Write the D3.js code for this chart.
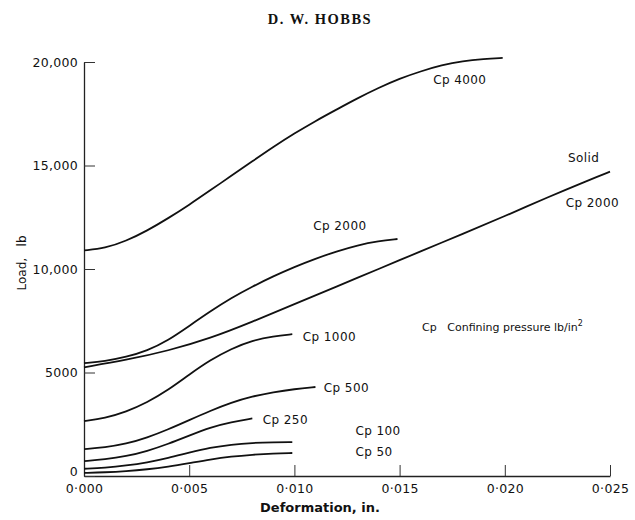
<!DOCTYPE html>
<html>
<head>
<meta charset="utf-8">
<script src="https://cdn.jsdelivr.net/npm/d3@7"></script>
<style>
  body { margin: 0; background: #fff; }
  text { font-family: "DejaVu Sans", sans-serif; fill: #111; }
</style>
</head>
<body>
<div id="chart"></div>
<script>
// deformation (in.) / load (lb)
const cp4000 = [[0,10900],[0.001,11000],[0.002,11350],[0.003,11850],[0.004,12450],[0.005,13100],[0.006,13800],[0.007,14500],[0.008,15200],[0.009,15900],[0.010,16550],[0.011,17150],[0.012,17700],[0.013,18250],[0.014,18750],[0.015,19200],[0.016,19550],[0.017,19850],[0.018,20050],[0.019,20150],[0.0199,20200]];
const cp2000 = [[0,5450],[0.001,5550],[0.002,5750],[0.003,6050],[0.004,6550],[0.005,7250],[0.006,7950],[0.007,8600],[0.008,9150],[0.009,9650],[0.010,10100],[0.011,10500],[0.012,10850],[0.013,11150],[0.014,11350],[0.0149,11450]];
const solid = [[0,5250],[0.002,5600],[0.004,6050],[0.006,6650],[0.008,7450],[0.010,8300],[0.012,9150],[0.014,10000],[0.016,10850],[0.018,11700],[0.020,12550],[0.022,13450],[0.024,14300],[0.025,14700]];
const cp1000 = [[0,2650],[0.001,2800],[0.002,3100],[0.003,3550],[0.004,4150],[0.005,4900],[0.006,5600],[0.007,6150],[0.008,6550],[0.009,6750],[0.0099,6850]];
const cp500 = [[0,1300],[0.001,1380],[0.002,1550],[0.003,1850],[0.004,2250],[0.005,2700],[0.006,3150],[0.007,3550],[0.008,3850],[0.009,4050],[0.010,4200],[0.011,4300]];
const cp250 = [[0,720],[0.001,800],[0.002,950],[0.003,1200],[0.004,1550],[0.005,1950],[0.006,2350],[0.007,2600],[0.008,2780]];
const cp100 = [[0,350],[0.001,400],[0.002,500],[0.003,650],[0.004,870],[0.005,1130],[0.006,1370],[0.007,1520],[0.008,1600],[0.009,1630],[0.0099,1640]];
const cp50 = [[0,150],[0.001,175],[0.002,230],[0.003,320],[0.004,450],[0.005,620],[0.006,800],[0.007,940],[0.008,1030],[0.009,1090],[0.0099,1110]];

const series = [cp4000, cp2000, solid, cp1000, cp500, cp250, cp100, cp50];

const xTicks = [0, 0.005, 0.010, 0.015, 0.020, 0.025];
const xTickLabels = ['0·000', '0·005', '0·010', '0·015', '0·020', '0·025'];
const yTicks = [0, 5000, 10000, 15000, 20000];
const yTickLabels = ['0', '5000', '10,000', '15,000', '20,000'];

// curve labels, anchored in data units
const labelText = ['Cp 4000', 'Solid', 'Cp 2000', 'Cp 2000', 'Cp 1000', 'Cp 500', 'Cp 250', 'Cp 100', 'Cp 50'];
const labelAt = [[0.0166,18950],[0.0230,15150],[0.0229,13000],[0.0109,11900],[0.0104,6500],[0.0114,4050],[0.0085,2500],[0.0129,1980],[0.0129,960]];

const width = 635, height = 520;
const svg = d3.select('#chart').append('svg')
  .attr('width', width)
  .attr('height', height);

const x = d3.scaleLinear().domain([0, 0.025]).range([84, 610]);
const y = d3.scaleLinear().domain([0, 20000]).range([476, 62]);

// title
svg.append('text')
  .attr('x', 320).attr('y', 24)
  .attr('text-anchor', 'middle')
  .style('font-family', '"Liberation Serif", serif')
  .style('font-weight', 'bold')
  .style('font-size', '14.5px')
  .style('letter-spacing', '1.5px')
  .text('D. W. HOBBS');

// axes
const xAxis = d3.axisBottom(x)
  .tickValues(xTicks)
  .tickFormat((d, i) => xTickLabels[i])
  .tickSizeInner(-11)
  .tickSizeOuter(0)
  .tickPadding(8);

const yAxis = d3.axisLeft(y)
  .tickValues(yTicks)
  .tickFormat((d, i) => yTickLabels[i])
  .tickSizeInner(-11)
  .tickSizeOuter(0)
  .tickPadding(6);

const gx = svg.append('g')
  .attr('transform', `translate(0,${y(0)})`)
  .call(xAxis);
const gy = svg.append('g')
  .attr('transform', `translate(${x(0)},0)`)
  .call(yAxis);

[gx, gy].forEach(g => {
  g.select('.domain').attr('stroke', '#222').attr('stroke-width', 1.3);
  g.selectAll('.tick line').attr('stroke', '#333').attr('stroke-width', 1);
  g.selectAll('.tick text')
    .style('font-family', '"DejaVu Sans", sans-serif')
    .style('font-size', '12.5px')
    .style('letter-spacing', '0.3px')
    .attr('fill', '#222');
});
// the zero load label sits a little above the axis, clear of 0·000
gy.selectAll('.tick text').filter(d => d === 0).attr('dy', '-0.05em');

// axis titles
svg.append('text')
  .attr('x', 320).attr('y', 512)
  .attr('text-anchor', 'middle')
  .style('font-weight', 'bold')
  .style('font-size', '13px')
  .text('Deformation, in.');

svg.append('text')
  .attr('transform', 'translate(26,263) rotate(-90)')
  .attr('text-anchor', 'middle')
  .style('font-size', '12px')
  .style('white-space', 'pre')
  .text('Load,   lb');

// curves
const line = d3.line()
  .x(d => x(d[0]))
  .y(d => y(d[1]))
  .curve(d3.curveBasis);

svg.append('g')
  .selectAll('path')
  .data(series)
  .enter()
  .append('path')
  .attr('d', line)
  .attr('fill', 'none')
  .attr('stroke', '#111')
  .attr('stroke-width', 1.8);

// curve labels
svg.append('g')
  .selectAll('text')
  .data(labelText)
  .enter()
  .append('text')
  .attr('x', (d, i) => x(labelAt[i][0]))
  .attr('y', (d, i) => y(labelAt[i][1]))
  .style('font-size', '12px')
  .style('letter-spacing', '0.4px')
  .text(d => d);

// note on Cp
const note = svg.append('text')
  .attr('x', x(0.01607))
  .attr('y', y(6990))
  .style('font-size', '11px')
  .style('white-space', 'pre');
note.append('tspan').text('Cp   Confining pressure lb/in');
note.append('tspan').attr('dy', -5).style('font-size', '8px').text('2');
</script>
</body>
</html>
